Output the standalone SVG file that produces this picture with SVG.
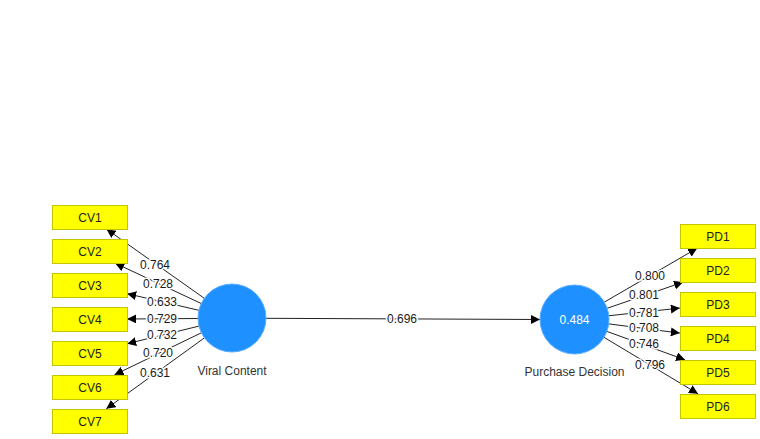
<svg xmlns="http://www.w3.org/2000/svg" width="760" height="439" viewBox="0 0 760 439">
<defs>
<marker id="ah" viewBox="0 0 10 10" refX="10" refY="5" markerWidth="9" markerHeight="9" markerUnits="userSpaceOnUse" orient="auto">
<path d="M0,0 L10,5 L0,10 z" fill="#000"/>
</marker>
<style>
.ln{stroke:#222;stroke-width:1;fill:none;marker-end:url(#ah)}
.box{fill:#ffff00;stroke:#c4c400;stroke-width:1}
.bt{font-family:"Liberation Sans",Arial,sans-serif;font-size:12px;fill:#222;text-anchor:middle}
.lv{font-family:"Liberation Sans",Arial,sans-serif;font-size:12px;fill:#1a1a1a;text-anchor:middle;stroke:#fff;stroke-width:3;paint-order:stroke;stroke-linejoin:round}
.lat{fill:#1e90ff;stroke:#5aaeff;stroke-width:1}
.nm{font-family:"Liberation Sans",Arial,sans-serif;font-size:12px;fill:#333;text-anchor:middle}
</style>
</defs>
<rect width="760" height="439" fill="#fff"/>
<g id="connectors">
<line class="ln" x1="204.3" y1="298.3" x2="106.6" y2="229.2"/>
<line class="ln" x1="201.2" y1="303.5" x2="115.2" y2="263.2"/>
<line class="ln" x1="198.9" y1="310.3" x2="127.2" y2="293.7"/>
<line class="ln" x1="198" y1="318.5" x2="127.2" y2="319"/>
<line class="ln" x1="199" y1="326.1" x2="127.2" y2="343.7"/>
<line class="ln" x1="201.4" y1="332.8" x2="114.5" y2="374.8"/>
<line class="ln" x1="204.4" y1="337.9" x2="106.3" y2="408.8"/>
<line class="ln" x1="266" y1="318.3" x2="540" y2="319.5"/>
<line class="ln" x1="604.2" y1="302.2" x2="697.2" y2="248.2"/>
<line class="ln" x1="607.1" y1="308.3" x2="683" y2="282.2"/>
<line class="ln" x1="608.3" y1="315.8" x2="679.8" y2="308.1"/>
<line class="ln" x1="608.2" y1="323.8" x2="679.8" y2="333.1"/>
<line class="ln" x1="606.9" y1="331.4" x2="685" y2="359.8"/>
<line class="ln" x1="604" y1="337.3" x2="698" y2="393.8"/>
<text class="lv" x="155" y="269">0.764</text>
<text class="lv" x="158" y="288">0.728</text>
<text class="lv" x="162" y="306">0.633</text>
<text class="lv" x="162" y="323">0.729</text>
<text class="lv" x="162" y="339">0.732</text>
<text class="lv" x="158" y="357">0.720</text>
<text class="lv" x="155" y="377">0.631</text>
<text class="lv" x="402" y="323">0.696</text>
<text class="lv" x="650" y="280">0.800</text>
<text class="lv" x="644" y="299">0.801</text>
<text class="lv" x="644" y="317">0.781</text>
<text class="lv" x="644" y="332">0.708</text>
<text class="lv" x="644" y="348">0.746</text>
<text class="lv" x="650" y="369">0.796</text>
</g>
<g id="CV1"><rect class="box" x="52.5" y="205.5" width="75" height="24"/><text class="bt" x="90" y="222">CV1</text></g>
<g id="CV2"><rect class="box" x="52.5" y="239.5" width="75" height="24"/><text class="bt" x="90" y="256">CV2</text></g>
<g id="CV3"><rect class="box" x="52.5" y="273.5" width="75" height="24"/><text class="bt" x="90" y="290">CV3</text></g>
<g id="CV4"><rect class="box" x="52.5" y="307.5" width="75" height="24"/><text class="bt" x="90" y="324">CV4</text></g>
<g id="CV5"><rect class="box" x="52.5" y="341.5" width="75" height="24"/><text class="bt" x="90" y="358">CV5</text></g>
<g id="CV6"><rect class="box" x="52.5" y="375.5" width="75" height="24"/><text class="bt" x="90" y="392">CV6</text></g>
<g id="CV7"><rect class="box" x="52.5" y="409.5" width="75" height="24"/><text class="bt" x="90" y="426">CV7</text></g>
<g id="ViralContent"><circle class="lat" cx="232" cy="318" r="34"/><text class="nm" x="232" y="375">Viral Content</text></g>
<g id="PurchaseDecision"><circle class="lat" cx="574.5" cy="319.5" r="34.5"/><text class="nm" x="574.5" y="323.5" style="fill:#fff">0.484</text><text class="nm" x="574.5" y="376">Purchase Decision</text></g>
<g id="PD1"><rect class="box" x="680.5" y="224.5" width="75" height="24"/><text class="bt" x="718" y="241">PD1</text></g>
<g id="PD2"><rect class="box" x="680.5" y="258.5" width="75" height="24"/><text class="bt" x="718" y="275">PD2</text></g>
<g id="PD3"><rect class="box" x="680.5" y="292.5" width="75" height="24"/><text class="bt" x="718" y="309">PD3</text></g>
<g id="PD4"><rect class="box" x="680.5" y="326.5" width="75" height="24"/><text class="bt" x="718" y="343">PD4</text></g>
<g id="PD5"><rect class="box" x="680.5" y="360.5" width="75" height="24"/><text class="bt" x="718" y="377">PD5</text></g>
<g id="PD6"><rect class="box" x="680.5" y="394.5" width="75" height="24"/><text class="bt" x="718" y="411">PD6</text></g>
</svg>
